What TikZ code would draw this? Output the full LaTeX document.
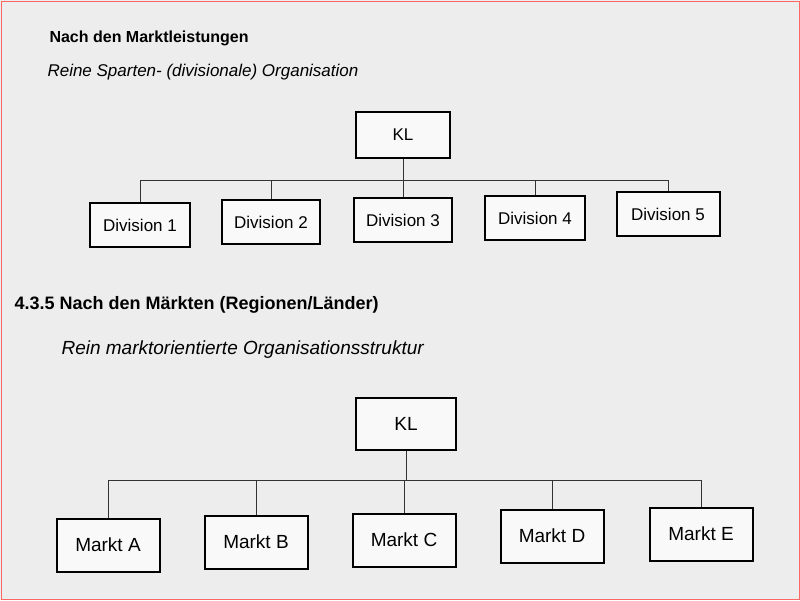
\documentclass[tikz,border=0pt]{standalone}
\usepackage{fontspec}
\setmainfont{Liberation Sans}
\begin{document}
\begin{tikzpicture}[x=1pt,y=-1pt,
  box/.style={draw=black,line width=2pt,fill=white!95!gray,inner sep=0pt},
  dbox/.style={box,font=\fontsize{17}{20}\selectfont},
  mbox/.style={box,font=\fontsize{19}{22}\selectfont},
  ln/.style={draw=black!80,line width=0.9pt},
  head/.style={anchor=west,font=\bfseries\fontsize{16}{18}\selectfont},
  sub/.style={anchor=west,font=\itshape\fontsize{17}{19}\selectfont}]
\fill[black!7] (0,0) rectangle (800,600);
\draw[red!60,line width=0.8pt] (1,1) rectangle (799,599);
\useasboundingbox (0,0) rectangle (800,600);
\node[head] (h1) at (46,38) {Nach den Marktleistungen};
\node[sub] (s1) at (44,72) {Reine Sparten- (divisionale) Organisation};
\node[dbox,minimum width=94pt,minimum height=46pt] (kl1) at (403,135) {KL};
\foreach \n/\x/\y/\w in {1/140/225/100,2/271/222/98,3/403/220/98,4/535/218/100,5/668/214/103}{
  \node[dbox,minimum width=\w pt,minimum height=44pt] (d\n) at (\x,\y) {Division \n};
}
\coordinate (j1) at (403,180);
\draw[ln] (kl1.south) -- (j1);
\draw[ln] (d1.north |- j1) -- (d5.north |- j1);
\foreach \n in {1,...,5}{\draw[ln] (d\n.north |- j1) -- (d\n.north);}
\node[head,font=\bfseries\fontsize{18}{20}\selectfont] (h2) at (11,305) {4.3.5 Nach den Märkten (Regionen/Länder)};
\node[sub,font=\itshape\fontsize{19}{21}\selectfont] (s2) at (58,350) {Rein marktorientierte Organisationsstruktur};
\node[mbox,minimum width=100pt,minimum height=52pt] (kl2) at (406,424) {KL};
\foreach \n/\l/\x/\y in {a/A/108/545,b/B/256/542,c/C/404/540,d/D/552/536,e/E/701/534}{
  \node[mbox,minimum width=103pt,minimum height=53pt] (m\n) at (\x,\y) {Markt \l};
}
\coordinate (j2) at (406,480);
\draw[ln] (kl2.south) -- (j2);
\draw[ln] (ma.north |- j2) -- (me.north |- j2);
\foreach \n in {a,b,c,d,e}{\draw[ln] (m\n.north |- j2) -- (m\n.north);}
\end{tikzpicture}
\end{document}
